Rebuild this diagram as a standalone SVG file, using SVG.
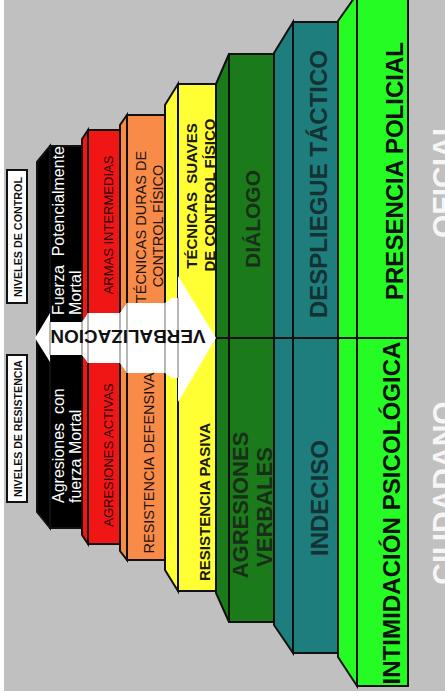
<svg xmlns="http://www.w3.org/2000/svg" width="445" height="696" viewBox="0 0 445 696">
<style>
text{font-family:"Liberation Sans",Arial,sans-serif}
.col{stroke:#111;stroke-width:2;stroke-linejoin:miter}
.w{fill:#fff;font-size:16px}
.r{fill:#2a0000;font-size:13px}
.o{fill:#1e1410;font-size:14.5px}
.y{fill:#1a1a10;font-size:15px;font-weight:bold}
.dg{fill:#182e18;font-weight:bold}
.tl{fill:#143232;font-size:24px;font-weight:bold}
.g{fill:#111;font-weight:bold}
.lab{fill:#111;font-size:10.5px;font-weight:bold}
.big{fill:#f6f6f6;font-size:30px;font-weight:bold}
.m{text-anchor:middle}
.gl{stroke:#a6a6a6;stroke-width:1.6}
</style>
<rect x="0" y="0" width="445" height="696" fill="#ffffff"/>
<rect x="4" y="0" width="441" height="691" fill="#c0c0c0"/>

<g id="oficial"><text class="big m" transform="translate(453,178) rotate(-90)">OFICIAL</text></g>
<g id="ciudadano"><text class="big m" transform="translate(453,493) rotate(-90)">CIUDADANO</text></g>

<g id="col-black">
<polygon class="col" fill="#000" points="37,162 50,146 50,528 37,512"/>
<rect class="col" fill="#000" x="50" y="146" width="32" height="382"/>
</g>
<g id="col-red">
<polygon class="col" fill="#f01616" points="82,139 88,130 88,544 82,535"/>
<rect class="col" fill="#f01616" x="88" y="130" width="32" height="414"/>
</g>
<g id="col-orange">
<polygon class="col" fill="#f98b49" points="120,125 127,115 127,560 120,551"/>
<rect class="col" fill="#f98b49" x="127" y="115" width="38" height="445"/>
</g>
<g id="col-yellow">
<polygon class="col" fill="#ffff33" points="165,105 178,84 178,591 165,570"/>
<rect class="col" fill="#ffff33" x="178" y="84" width="38" height="507"/>
</g>
<g id="col-darkgreen">
<polygon class="col" fill="#1b7b1b" points="216,84 229,54 229,622 216,593"/>
<rect class="col" fill="#1b7b1b" x="229" y="54" width="45" height="568"/>
</g>
<g id="col-teal">
<polygon class="col" fill="#1e7e7e" points="274,53 293,22 293,653 274,625"/>
<rect class="col" fill="#1e7e7e" x="293" y="22" width="45" height="631"/>
</g>
<g id="col-green">
<polygon class="col" fill="#24fc24" points="338,21 357,-6 357,686 338,657"/>
<rect class="col" fill="#24fc24" x="357" y="-6" width="51" height="692"/>
</g>

<g id="connectors">
<polygon fill="#ffffff" points="35,338 50,313 50,322 82,322 88,313 120,313 127,303 165,303 172,298 178,298 178,276 216,338 178,402 178,378 172,378 165,373 127,373 120,363 88,363 82,355 50,355 50,362"/>
<line class="gl" x1="50" y1="322" x2="50" y2="355"/>
<line class="gl" x1="82" y1="322" x2="82" y2="355"/>
<line class="gl" x1="88" y1="313" x2="88" y2="363"/>
<line class="gl" x1="120" y1="313" x2="120" y2="363"/>
<line class="gl" x1="127" y1="303" x2="127" y2="373"/>
<line class="gl" x1="165" y1="303" x2="165" y2="373"/>
<line class="gl" x1="178" y1="298" x2="178" y2="378"/>
<line stroke="#111" stroke-width="2" x1="216" y1="338" x2="408" y2="338"/>
<text fill="#111" font-size="18" font-weight="bold" class="m" textLength="155" lengthAdjust="spacingAndGlyphs" transform="translate(128,330) rotate(180)">VERBALIZACION</text>
</g>

<g id="label-control">
<rect x="7" y="170" width="20" height="133" fill="#fff" stroke="#111" stroke-width="2"/>
<text class="lab m" textLength="120" lengthAdjust="spacingAndGlyphs" transform="translate(22,237) rotate(-90)">NIVELES DE CONTROL</text>
</g>
<g id="label-resistencia">
<rect x="7" y="355" width="20" height="147" fill="#fff" stroke="#111" stroke-width="2"/>
<text class="lab m" textLength="137" lengthAdjust="spacingAndGlyphs" transform="translate(22,428.5) rotate(-90)">NIVELES DE RESISTENCIA</text>
</g>

<g id="n-fuerza-mortal">
<text class="w" xml:space="preserve" transform="translate(64,315) rotate(-90)">Fuerza  Potencialmente</text>
<text class="w" transform="translate(81,315) rotate(-90)">Mortal</text>
</g>
<g id="n-agresiones-fuerza-mortal">
<text class="w" xml:space="preserve" transform="translate(64,503) rotate(-90)">Agresiones  con</text>
<text class="w" transform="translate(81,503) rotate(-90)">fuerza Mortal</text>
</g>
<g id="n-armas"><text class="r m" transform="translate(113,225) rotate(-90)">ARMAS INTERMEDIAS</text></g>
<g id="n-agresiones-activas"><text class="r m" transform="translate(113,455) rotate(-90)">AGRESIONES ACTIVAS</text></g>
<g id="n-tecnicas-duras">
<text class="o m" transform="translate(146,227) rotate(-90)">TÉCNICAS DURAS DE</text>
<text class="o m" transform="translate(163,226) rotate(-90)">CONTROL FÍSICO</text>
</g>
<g id="n-resistencia-defensiva"><text class="o m" font-size="14" transform="translate(154,463) rotate(-90)">RESISTENCIA DEFENSIVA</text></g>
<g id="n-tecnicas-suaves">
<text class="y m" xml:space="preserve" transform="translate(197,196) rotate(-90)">TÉCNICAS  SUAVES</text>
<text class="y m" transform="translate(215,195) rotate(-90)">DE CONTROL FÍSICO</text>
</g>
<g id="n-resistencia-pasiva"><text class="y m" transform="translate(210,502) rotate(-90)">RESISTENCIA PASIVA</text></g>
<g id="n-dialogo"><text class="dg m" font-size="21" transform="translate(260,219) rotate(-90)">DIÁLOGO</text></g>
<g id="n-agresiones-verbales">
<text class="dg m" font-size="22" transform="translate(248,505) rotate(-90)">AGRESIONES</text>
<text class="dg m" font-size="22" transform="translate(272,507) rotate(-90)">VERBALES</text>
</g>
<g id="n-despliegue"><text class="tl m" transform="translate(327,184) rotate(-90)">DESPLIEGUE TÁCTICO</text></g>
<g id="n-indeciso"><text class="tl m" transform="translate(328,498) rotate(-90)">INDECISO</text></g>
<g id="n-presencia"><text class="g m" font-size="23" textLength="258" lengthAdjust="spacingAndGlyphs" transform="translate(403,171) rotate(-90)">PRESENCIA POLICIAL</text></g>
<g id="n-intimidacion"><text class="g m" font-size="24" textLength="343" lengthAdjust="spacingAndGlyphs" transform="translate(400,513) rotate(-90)">INTIMIDACIÓN PSICOLÓGICA</text></g>
</svg>
